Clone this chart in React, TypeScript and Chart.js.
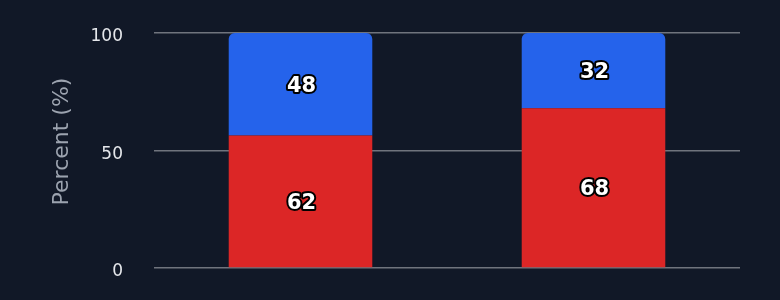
import React, { useEffect, useRef } from "react";
import { Chart, registerables } from "chart.js";

Chart.register(...registerables);

const categories = ["Group 1", "Group 2"];
const redValues = [62, 68];
const blueValues = [48, 32];
const yTicks = [0, 50, 100];
const yTitle = "Percent (%)";

const totals = categories.map((_, i) => redValues[i] + blueValues[i]);
const redPct = redValues.map((v, i) => (v / totals[i]) * 100);
const bluePct = blueValues.map((v, i) => (v / totals[i]) * 100);

const labelPlugin = {
  id: "segLabels",
  afterDatasetsDraw(chart: any) {
    const ctx = chart.ctx;
    const raws = [redValues, blueValues];
    ctx.save();
    ctx.font = "bold 21px 'DejaVu Sans'";
    ctx.textAlign = "center";
    ctx.textBaseline = "middle";
    ctx.lineJoin = "round";
    chart.data.datasets.forEach((ds: any, di: number) => {
      const meta = chart.getDatasetMeta(di);
      meta.data.forEach((bar: any, i: number) => {
        const y = (bar.y + bar.base) / 2 + 2;
        const txt = String(raws[di][i]);
        ctx.lineWidth = 4;
        ctx.strokeStyle = "#000000";
        ctx.strokeText(txt, bar.x + 1, y);
        ctx.fillStyle = "#ffffff";
        ctx.fillText(txt, bar.x + 1, y);
      });
    });
    ctx.restore();
  },
};

const titlePlugin = {
  id: "yTitle",
  afterDraw(chart: any) {
    const ctx = chart.ctx;
    const a = chart.chartArea;
    ctx.save();
    ctx.translate(62, (a.top + a.bottom) / 2 - 9);
    ctx.rotate(-Math.PI / 2);
    ctx.font = "22px 'DejaVu Sans'";
    ctx.fillStyle = "#9ca3af";
    ctx.textAlign = "center";
    ctx.textBaseline = "middle";
    ctx.fillText(yTitle, 0, 0);
    ctx.restore();
  },
};

export default function App() {
  const ref = useRef<HTMLCanvasElement>(null);
  useEffect(() => {
    document.body.style.margin = "0";
    document.body.style.background = "#111827";
    const chart = new Chart(ref.current!, {
      type: "bar",
      data: {
        labels: categories,
        datasets: [
          {
            label: "Red",
            data: redPct,
            backgroundColor: "#dc2626",
            borderWidth: 0,
            barPercentage: 0.49,
            categoryPercentage: 1,
          },
          {
            label: "Blue",
            data: bluePct,
            backgroundColor: "#2563eb",
            borderWidth: 0,
            borderRadius: { topLeft: 6, topRight: 6, bottomLeft: 0, bottomRight: 0 },
            borderSkipped: false,
            barPercentage: 0.49,
            categoryPercentage: 1,
          },
        ],
      },
      options: {
        animation: false,
        responsive: true,
        maintainAspectRatio: false,
        layout: { padding: { top: 33, right: 40, bottom: 32, left: 0 } },
        plugins: { legend: { display: false }, tooltip: { enabled: false } },
        scales: {
          x: { stacked: true, display: false },
          y: {
            stacked: true,
            min: 0,
            max: 100,
            afterBuildTicks: (scale: any) => {
              scale.ticks = yTicks.map((v) => ({ value: v }));
            },
            afterFit: (scale: any) => {
              scale.width = 154;
            },
            border: { display: false },
            grid: {
              color: "rgba(255,255,255,0.4)",
              lineWidth: 1.5,
              drawTicks: true,
              tickLength: 29,
              tickColor: "rgba(0,0,0,0)",
            },
            ticks: {
              color: "#e5e7eb",
              padding: 2,
              labelOffset: 4,
              font: { family: "'DejaVu Sans'", size: 17 },
            },
            title: { display: false },
          },
        },
      },
      plugins: [labelPlugin, titlePlugin],
    });
    return () => chart.destroy();
  }, []);
  return (
    <div style={{ width: 780, height: 300, background: "#111827", position: "relative" }}>
      <canvas ref={ref} />
    </div>
  );
}
